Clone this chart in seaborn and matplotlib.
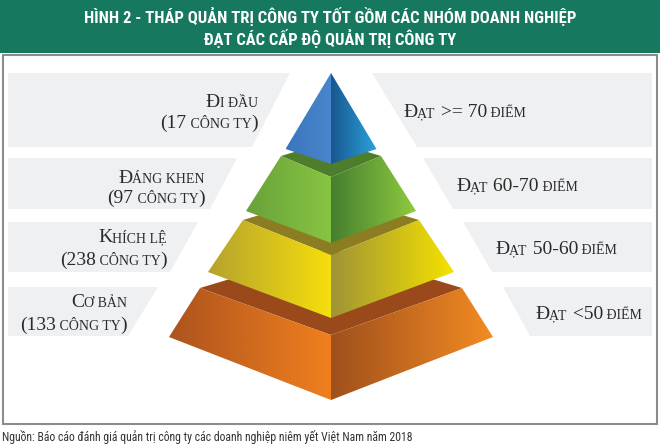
import numpy as np
import seaborn as sns
import matplotlib
matplotlib.use("Agg")
import matplotlib.pyplot as plt
from matplotlib.patches import Polygon, Rectangle
from matplotlib.offsetbox import TextArea, HPacker, AnnotationBbox

# data
levels = ["Đi đầu", "Đáng khen", "Khích lệ", "Cơ bản"]
counts = [17, 97, 238, 133]
score_ranges = [">= 70", "60-70", "50-60", "<50"]
title_lines = ["HÌNH 2 - THÁP QUẢN TRỊ CÔNG TY TỐT GỒM CÁC NHÓM DOANH NGHIỆP",
               "ĐẠT CÁC CẤP ĐỘ QUẢN TRỊ CÔNG TY"]
source = "Nguồn: Báo cáo đánh giá quản trị công ty các doanh nghiệp niêm yết Việt Nam năm 2018"

sns.set_theme(style="white")
plt.rcParams["font.family"] = ["Liberation Serif", "DejaVu Serif"]

SERIF = "Liberation Serif"
NARROW = ["Roboto Condensed", "DejaVu Sans"]
TXT = "#2b2b2b"
BIG, SMALL = 14, 10

# layout (pixels)
cx = 331
# tier geometry: (top half-width, top corner y, top front y, bottom half-width, bottom corner y, bottom front y)
tiers = [
    (0, 73, 73, 45.5, 149, 164),
    (50, 156, 177, 85, 211, 243),
    (88, 220, 255, 123, 272, 318),
    (131, 288, 335, 162, 337, 400),
]
# colours: ledge, left face (outer, inner), right face (inner, outer)
tier_colors = [
    (None, ("#3a76bf", "#4a86cc"), ("#18578f", "#2ba2dc")),
    ("#4e7d2c", ("#68a23a", "#88c442"), ("#457f2e", "#8fca40")),
    ("#8c7d22", ("#b5a22e", "#f5df0c"), ("#9f9436", "#f5e200")),
    ("#9a4a1a", ("#ad531e", "#f0801e"), ("#a0501c", "#f38b23")),
]
rows = [(73, 147), (158, 209), (222, 272), (287, 336)]
left_edge = [(290, 252), (237, 210), (198, 170), (158, 128)]
right_edge = [(372, 417), (423, 453), (463, 492), (503, 530)]
left_x = [258, 205, 167, 127]
left_base = [(107, 128), (183, 203), (242, 265), (307, 330)]
right_x = [403, 456, 495, 535]
right_base = [117, 191, 254, 319]


def grad_poly(ax, pts, c0, c1, z):
    poly = Polygon(pts, closed=True, facecolor="none", edgecolor="none", zorder=z)
    ax.add_patch(poly)
    xs = [p[0] for p in pts]
    ys = [p[1] for p in pts]
    cmap = sns.blend_palette([c0, c1], as_cmap=True)
    grad = np.linspace(0, 1, 256).reshape(1, -1)
    im = ax.imshow(grad, cmap=cmap, extent=[min(xs), max(xs), max(ys), min(ys)],
                   aspect="auto", interpolation="bicubic", zorder=z)
    im.set_clip_path(poly)


def mixed_text(ax, parts, x, y, right=False, z=10):
    boxes = [TextArea(t, textprops=dict(size=s, family=SERIF, color=TXT)) for t, s in parts]
    pack = HPacker(children=boxes, align="baseline", pad=0, sep=0)
    big_px = max(s for _, s in parts) * 100 / 72
    ab = AnnotationBbox(pack, (x, y + 0.22 * big_px), xycoords="data",
                        box_alignment=(1 if right else 0, 0), frameon=False, pad=0)
    ab.set_zorder(z)
    ax.add_artist(ab)


fig = plt.figure(figsize=(6.6, 4.46), dpi=100)
fig.patch.set_facecolor("white")
ax = fig.add_axes([0, 0, 1, 1])
ax.axis("off")

# header band and frame
ax.add_patch(Rectangle((0, 0), 660, 53, facecolor="#16785f", edgecolor="none", zorder=1))
ax.add_patch(Rectangle((3, 55), 654, 369, facecolor="white", edgecolor="#8c8c8c", lw=1.5, zorder=1))
for i, line in enumerate(title_lines):
    ax.text(330, [16, 39][i], line, ha="center", va="center", color="white",
            fontsize=12, fontweight="bold", family=NARROW, zorder=2)
ax.text(2, 437, source, ha="left", va="center", color="#333333", fontsize=8.5,
        family=NARROW, zorder=2)

# label panels
for i, (t, b) in enumerate(rows):
    ax.add_patch(Polygon([(8, t), (left_edge[i][0], t), (left_edge[i][1], b), (8, b)],
                         facecolor="#eff0f2", edgecolor="none", zorder=2))
    ax.add_patch(Polygon([(right_edge[i][0], t), (652, t), (652, b), (right_edge[i][1], b)],
                         facecolor="#eff0f2", edgecolor="none", zorder=2))

# pyramid, bottom tier first
for i in reversed(range(len(tiers))):
    tw, tyc, tyf, bw, byc, byf = tiers[i]
    ledge, lc, rc = tier_colors[i]
    z = 10 - i * 2
    if ledge is not None:
        ax.add_patch(Polygon([(cx - tw, tyc), (cx, tyc - 0.3 * tw), (cx + tw, tyc), (cx, tyf)],
                             facecolor=ledge, edgecolor="none", zorder=z - 1))
    grad_poly(ax, [(cx - tw, tyc), (cx, tyf), (cx, byf), (cx - bw, byc)], lc[0], lc[1], z)
    grad_poly(ax, [(cx, tyf), (cx + tw, tyc), (cx + bw, byc), (cx, byf)], rc[0], rc[1], z)

# labels
for i, name in enumerate(levels):
    up = name.upper()
    mixed_text(ax, [(up[0], BIG), (up[1:], SMALL)], left_x[i], left_base[i][0], right=True, z=20)
    mixed_text(ax, [("(" + str(counts[i]), BIG), (" CÔNG TY", SMALL), (")", BIG)],
               left_x[i], left_base[i][1], right=True, z=20)
    mixed_text(ax, [("Đ", BIG), ("ẠT", SMALL), (" " + score_ranges[i], BIG), (" ĐIỂM", SMALL)],
               right_x[i], right_base[i], z=20)

ax.set_xlim(0, 660)
ax.set_ylim(446, 0)
fig.savefig("out.png", dpi=100, facecolor="white")
